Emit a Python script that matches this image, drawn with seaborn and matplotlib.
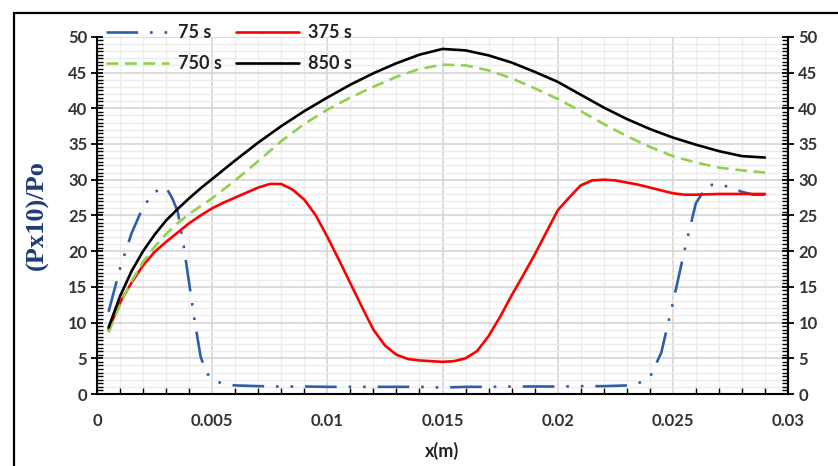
import matplotlib
matplotlib.use("Agg")
import matplotlib.pyplot as plt
from matplotlib.patches import Rectangle
from matplotlib.ticker import MultipleLocator
import pandas as pd
import seaborn as sns

# Pressure ratio profiles along x at four times
x_75 = [0.0005, 0.001, 0.0015, 0.002, 0.0025, 0.003, 0.00325, 0.0035, 0.00375,
        0.004, 0.00425, 0.0045, 0.00475, 0.005, 0.0055, 0.006, 0.007, 0.008,
        0.009, 0.010, 0.011, 0.012, 0.013, 0.014, 0.015, 0.016, 0.017, 0.018,
        0.019, 0.020, 0.021, 0.022, 0.023, 0.0235, 0.024, 0.0245, 0.025,
        0.0255, 0.026, 0.0265, 0.027, 0.0275, 0.028, 0.0285, 0.029]
p_75 = [11.5, 17.6, 22.5, 26.2, 28.3, 28.9, 27.5, 25.6, 21.0,
        15.5, 10.0, 5.2, 3.0, 2.0, 1.4, 1.2, 1.1, 1.05,
        1.05, 1.0, 1.0, 1.0, 1.0, 1.0, 0.9, 1.0, 1.0, 1.05,
        1.05, 1.05, 1.1, 1.1, 1.2, 1.5, 2.3, 5.8, 12.7,
        20.0, 26.7, 29.2, 29.4, 28.9, 28.3, 27.9, 27.9]

x_375 = [0.0005, 0.001, 0.0015, 0.002, 0.0025, 0.003, 0.0035, 0.004, 0.0045,
         0.005, 0.0055, 0.006, 0.0065, 0.007, 0.0075, 0.008, 0.0085, 0.009,
         0.0095, 0.010, 0.0105, 0.011, 0.0115, 0.012, 0.0125, 0.013, 0.0135,
         0.014, 0.0145, 0.015, 0.0155, 0.016, 0.0165, 0.017, 0.0175, 0.018,
         0.0185, 0.019, 0.0195, 0.020, 0.0205, 0.021, 0.0215, 0.022, 0.0225,
         0.023, 0.0235, 0.024, 0.0245, 0.025, 0.0255, 0.026, 0.027, 0.028, 0.029]
p_375 = [9.0, 12.8, 15.6, 18.0, 19.9, 21.3, 22.6, 23.9, 25.0,
         26.0, 26.8, 27.5, 28.2, 28.9, 29.4, 29.4, 28.6, 27.2,
         25.0, 22.0, 18.8, 15.5, 12.2, 9.0, 6.8, 5.5, 4.9,
         4.7, 4.6, 4.5, 4.6, 5.0, 6.0, 8.1, 10.8, 13.8,
         16.6, 19.5, 22.6, 25.7, 27.5, 29.2, 29.9, 30.0, 29.9,
         29.6, 29.3, 28.9, 28.5, 28.1, 27.9, 27.9, 28.0, 28.0, 28.0]

x_750 = [0.0005, 0.001, 0.0015, 0.002, 0.0025, 0.003, 0.0035, 0.004, 0.0045,
         0.005, 0.006, 0.007, 0.008, 0.009, 0.010, 0.011, 0.012, 0.013,
         0.014, 0.015, 0.016, 0.017, 0.018, 0.019, 0.020, 0.021, 0.022,
         0.023, 0.024, 0.025, 0.026, 0.027, 0.028, 0.029]
p_750 = [8.6, 12.5, 15.8, 18.5, 20.6, 22.4, 23.9, 25.2, 26.3,
         27.4, 29.9, 32.6, 35.4, 37.8, 39.8, 41.5, 43.0, 44.4,
         45.5, 46.1, 46.0, 45.3, 44.2, 42.8, 41.3, 39.6, 37.8,
         36.1, 34.6, 33.3, 32.4, 31.7, 31.3, 31.0]

x_850 = [0.0005, 0.001, 0.0015, 0.002, 0.0025, 0.003, 0.0035, 0.004, 0.0045,
         0.005, 0.006, 0.007, 0.008, 0.009, 0.010, 0.011, 0.012, 0.013,
         0.014, 0.015, 0.016, 0.017, 0.018, 0.019, 0.020, 0.021, 0.022,
         0.023, 0.024, 0.025, 0.026, 0.027, 0.028, 0.029]
p_850 = [9.3, 13.7, 17.2, 20.0, 22.3, 24.3, 25.9, 27.4, 28.8,
         30.1, 32.7, 35.2, 37.5, 39.6, 41.5, 43.3, 44.9, 46.3,
         47.5, 48.3, 48.1, 47.4, 46.4, 45.1, 43.7, 41.9, 40.1,
         38.5, 37.1, 35.9, 34.9, 34.0, 33.3, 33.1]

series_labels = ["75 s", "375 s", "750 s", "850 s"]

frames = []
for lab, xs, ps in zip(series_labels, [x_75, x_375, x_750, x_850],
                       [p_75, p_375, p_750, p_850]):
    frames.append(pd.DataFrame({"x": xs, "p": ps, "t": lab}))
df = pd.concat(frames, ignore_index=True)

sns.set_theme(style="white")
plt.rcParams["font.family"] = ["Lato", "DejaVu Sans"]

fig = plt.figure(figsize=(8.38, 4.66), dpi=100)
ax = fig.add_axes([0.1158, 0.1545, 0.8245, 0.7665])

palette = {"75 s": "#2E5EA8", "375 s": "#FF0000",
           "750 s": "#92D050", "850 s": "#000000"}
dashes = {"75 s": (12, 4.5, 1, 4.5, 1, 4.5), "375 s": "",
          "750 s": (4.5, 2.5), "850 s": ""}

sns.lineplot(data=df, x="x", y="p", hue="t", style="t", hue_order=series_labels,
             style_order=series_labels, palette=palette, dashes=dashes,
             linewidth=1.9, sort=False, estimator=None, ax=ax, legend=False)

ax.set_xlim(0, 0.03)
ax.set_ylim(0, 50)
ax.xaxis.set_major_locator(MultipleLocator(0.005))
ax.xaxis.set_minor_locator(MultipleLocator(0.001))
ax.yaxis.set_major_locator(MultipleLocator(5))
ax.yaxis.set_minor_locator(MultipleLocator(1))
ax.set_xticks([0, 0.005, 0.01, 0.015, 0.02, 0.025, 0.03])
ax.set_xticklabels(["0", "0.005", "0.01", "0.015", "0.02", "0.025", "0.03"])

ax.grid(which="major", color="#D6D6D6", linewidth=1.2)
ax.grid(which="minor", color="#ECECEC", linewidth=1.0)
ax.set_axisbelow(True)

for side in ["left", "bottom", "right"]:
    ax.spines[side].set_visible(True)
    ax.spines[side].set_color("black")
    ax.spines[side].set_linewidth(1.5)
ax.spines["top"].set_visible(False)

tick_color = "#333333"
ax.tick_params(axis="both", which="major", direction="inout", length=8,
               width=1.3, color="black", labelsize=12, labelcolor=tick_color)
ax.tick_params(axis="x", which="major", pad=10)
ax.tick_params(axis="y", which="major", pad=3)
ax.tick_params(axis="x", which="minor", direction="in", length=4, width=1.0,
               color="black", bottom=True)
ax.tick_params(axis="y", which="minor", length=0)
for lbl in ax.get_xticklabels() + ax.get_yticklabels():
    lbl.set_fontweight("bold")

# y ticks on the right side with fine 0.5 subdivisions
ax2 = ax.twinx()
ax2.set_ylim(0, 50)
ax2.yaxis.set_major_locator(MultipleLocator(5))
ax2.yaxis.set_minor_locator(MultipleLocator(0.5))
ax2.tick_params(axis="y", which="major", direction="inout", length=8,
                width=1.3, color="black", labelsize=12, labelcolor=tick_color)
ax2.tick_params(axis="y", which="minor", direction="in", length=4, width=1.0,
                color="black")
for lbl in ax2.get_yticklabels():
    lbl.set_fontweight("bold")
for side in ["left", "top", "bottom"]:
    ax2.spines[side].set_visible(False)
ax2.spines["right"].set_linewidth(1.5)
ax2.spines["right"].set_color("black")
ax2.grid(False)

# left side fine ticks every 0.5
ax3 = ax.twinx()
ax3.set_ylim(0, 50)
ax3.yaxis.tick_left()
ax3.yaxis.set_major_locator(MultipleLocator(5))
ax3.yaxis.set_minor_locator(MultipleLocator(0.5))
ax3.tick_params(axis="y", which="major", length=0, labelleft=False)
ax3.tick_params(axis="y", which="minor", direction="in", length=4, width=1.0,
                color="black")
for side in ["left", "top", "bottom", "right"]:
    ax3.spines[side].set_visible(False)
ax3.grid(False)

ax.set_xlabel("x(m)", fontsize=13, fontweight="bold", color="#222222",
              labelpad=9)
ax.set_ylabel("(Px10)/Po", fontsize=19, fontweight="bold", color="#1F3C78",
              family=["Liberation Serif", "DejaVu Serif"], labelpad=14)

# legend filled column by column, so order gives rows (75, 375) / (750, 850)
leg_order = ["75 s", "750 s", "375 s", "850 s"]
handles = [plt.Line2D([], [], color=palette[s], linewidth=1.9,
                      dashes=dashes[s] if dashes[s] else (None, None))
           for s in leg_order]
leg = ax3.legend(handles, leg_order, ncol=2, loc="upper left",
                 bbox_to_anchor=(0.002, 1.055), frameon=False, fontsize=13,
                 handlelength=3.5, handletextpad=0.5, columnspacing=0.8,
                 labelspacing=0.75, borderaxespad=0)
for txt in leg.get_texts():
    txt.set_fontweight("bold")
    txt.set_color("#222222")

fig.patches.append(Rectangle((14 / 838, -0.2), 1.2, 0.2 + 1 - 13 / 466,
                             transform=fig.transFigure, fill=False,
                             edgecolor="black", linewidth=1.6, zorder=10))

fig.savefig("out.png", dpi=100)
